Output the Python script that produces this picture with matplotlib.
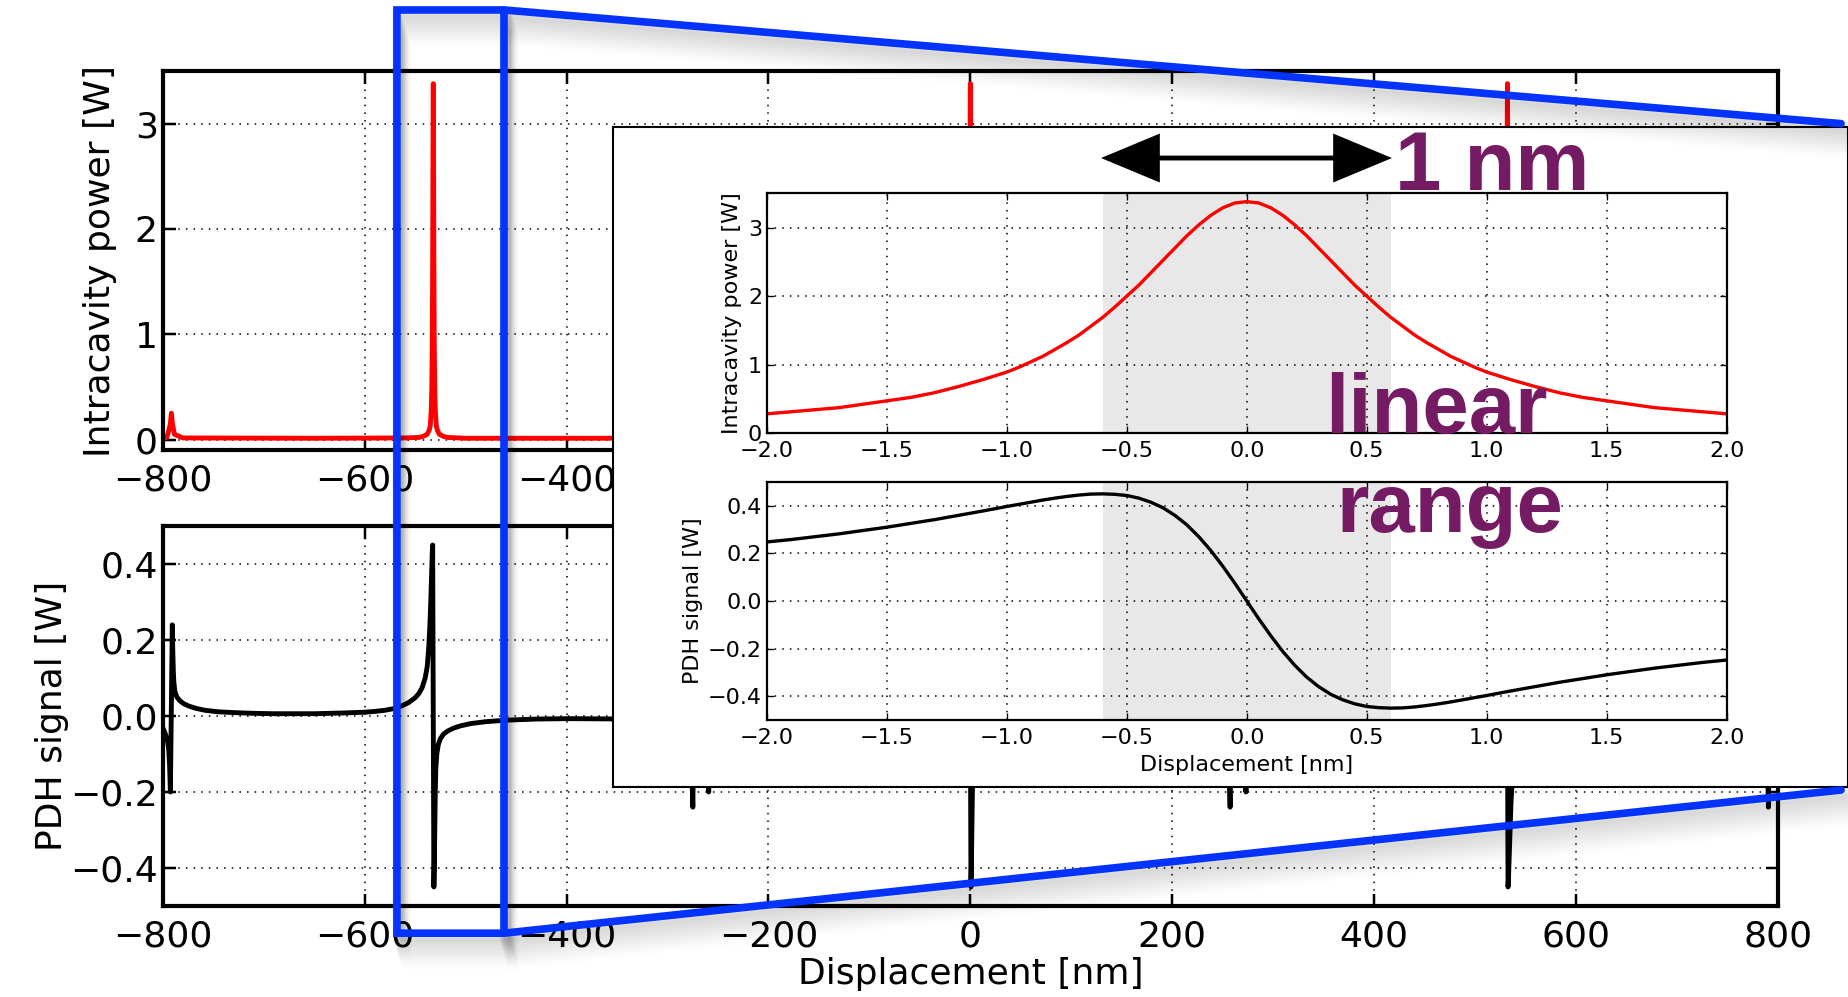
import matplotlib
matplotlib.use('Agg')
import matplotlib.pyplot as plt
from matplotlib.patches import Rectangle, FancyArrowPatch
from matplotlib.lines import Line2D

# main panels: (displacement nm, value)
power_points = [
    (-800, 0.015), (-796, 0.02), (-794.4, 0.07), (-792.4, 0.15), (-791.9, 0.2), (-791.4, 0.25),
    (-790.9, 0.2), (-790.4, 0.15), (-788.4, 0.05), (-780, 0.015), (-650, 0.012), (-560, 0.015),
    (-546, 0.02), (-542, 0.03), (-538, 0.05), (-536, 0.09), (-535, 0.13), (-534, 0.28),
    (-533.5, 0.47), (-533, 0.89), (-532.6, 1.69), (-532.3, 2.70), (-532, 3.38), (-531.7, 2.70),
    (-531.4, 1.69), (-531, 0.89), (-530.5, 0.47), (-530, 0.28), (-529, 0.13), (-528, 0.09),
    (-526, 0.05), (-522, 0.03), (-518, 0.02), (-500, 0.012), (-300, 0.012),
    (-277, 0.02), (-275, 0.07), (-274.5, 0.15), (-274, 0.25), (-273.5, 0.15), (-273, 0.07),
    (-271, 0.02), (-266, 0.015), (-261, 0.02), (-259, 0.07), (-258.5, 0.15), (-258, 0.25),
    (-257.5, 0.15), (-257, 0.07), (-255, 0.02), (-100, 0.012), (-14, 0.02), (-6, 0.05),
    (-4, 0.09), (-3, 0.13), (-2, 0.28), (-1.5, 0.47), (-1, 0.89), (-0.6, 1.69), (-0.3, 2.70),
    (0, 3.38), (0.3, 2.70), (0.6, 1.69), (1, 0.89), (1.5, 0.47), (2, 0.28), (3, 0.13),
    (4, 0.09), (6, 0.05), (14, 0.02), (100, 0.012), (255, 0.02), (257, 0.07), (257.5, 0.15),
    (258, 0.25), (258.5, 0.15), (259, 0.07), (261, 0.02), (266, 0.015), (271, 0.02),
    (273, 0.07), (273.5, 0.15), (274, 0.25), (274.5, 0.15), (275, 0.07), (277, 0.02),
    (300, 0.012), (500, 0.012), (518, 0.02), (522, 0.03), (526, 0.05), (528, 0.09),
    (529, 0.13), (530, 0.28), (530.5, 0.47), (531, 0.89), (531.4, 1.69), (531.7, 2.70),
    (532, 3.38), (532.3, 2.70), (532.6, 1.69), (533, 0.89), (533.5, 0.47), (534, 0.28),
    (535, 0.13), (536, 0.09), (538, 0.05), (542, 0.03), (546, 0.02), (560, 0.015),
    (650, 0.012), (780, 0.015), (788.4, 0.05), (790.4, 0.15), (790.9, 0.2), (791.4, 0.25),
    (791.9, 0.2), (792.4, 0.15), (794.4, 0.07), (796, 0.02), (800, 0.015),
]

pdh_points = [
    (-800, -0.03), (-797, -0.05), (-795, -0.07), (-794, -0.09), (-793.2, -0.13), (-792.4, -0.2),
    (-791.4, 0.02), (-790.5, 0.24), (-790, 0.17), (-789.5, 0.12), (-789, 0.09), (-788, 0.065),
    (-786, 0.05), (-783, 0.04), (-779, 0.032), (-774, 0.026), (-767, 0.02), (-758, 0.015),
    (-745, 0.011), (-730, 0.009), (-710, 0.007), (-690, 0.006), (-650, 0.006), (-620, 0.008),
    (-600, 0.01), (-590, 0.012), (-580, 0.015), (-570, 0.02), (-562, 0.028), (-556, 0.036),
    (-550, 0.048), (-546, 0.06), (-543, 0.075), (-540, 0.1), (-538, 0.13), (-536.5, 0.18),
    (-535.5, 0.23), (-534.5, 0.3), (-533.6, 0.38), (-533, 0.43), (-532.6, 0.45), (-532, 0.0),
    (-531.4, -0.45), (-531, -0.4), (-530.5, -0.3), (-530, -0.2), (-529.5, -0.14),
    (-528.5, -0.1), (-527, -0.075), (-525, -0.06), (-522, -0.048), (-518, -0.04),
    (-512, -0.032), (-505, -0.026), (-495, -0.02), (-480, -0.015), (-460, -0.011),
    (-430, -0.008), (-400, -0.007), (-330, -0.008), (-285, -0.025), (-280, -0.04),
    (-277, -0.06), (-275.9, -0.14), (-274.9, -0.24), (-274, -0.02), (-273, 0.2), (-272, 0.12),
    (-270.5, 0.06), (-268, 0.04), (-266, 0.03), (-263, 0.01), (-261, -0.06), (-260, -0.12),
    (-259.2, -0.2), (-258.2, 0.02), (-257.3, 0.24), (-256.3, 0.14), (-254.8, 0.06),
    (-250.8, 0.04), (-246, 0.03), (-230, 0.015), (-200, 0.008), (-150, 0.008), (-80, 0.009),
    (-40, 0.016), (-18, 0.05), (-10, 0.08), (-6, 0.13), (-4, 0.2), (-2.5, 0.3), (-1.2, 0.42),
    (-0.6, 0.45), (0, 0.0), (0.6, -0.45), (1.0, -0.4), (1.5, -0.3), (2.0, -0.2), (3.5, -0.1),
    (6, -0.06), (10, -0.046), (21, -0.028), (41, -0.015), (80, -0.009), (150, -0.008),
    (200, -0.008), (230, -0.015), (246, -0.03), (250.8, -0.04), (254.8, -0.06), (256.3, -0.14),
    (257.3, -0.24), (258.2, -0.02), (259.2, 0.2), (260, 0.12), (261, 0.06), (263, 0.01),
    (266, -0.03), (268, -0.04), (270.5, -0.06), (272, -0.12), (273, -0.2), (274, 0.02),
    (274.9, 0.24), (275.9, 0.14), (277, 0.06), (280, 0.04), (285, 0.025), (330, 0.008),
    (400, 0.007), (430, 0.008), (460, 0.011), (480, 0.015), (495, 0.02), (505, 0.026),
    (512, 0.032), (518, 0.04), (522, 0.048), (525, 0.06), (527, 0.075), (528.5, 0.1),
    (529.5, 0.14), (530, 0.2), (530.5, 0.3), (531, 0.4), (531.4, 0.45), (532, 0.0),
    (532.6, -0.45), (533, -0.43), (533.6, -0.38), (534.5, -0.3), (535.5, -0.23),
    (536.5, -0.18), (538, -0.13), (540, -0.1), (543, -0.075), (546, -0.06), (550, -0.048),
    (556, -0.036), (562, -0.028), (570, -0.02), (580, -0.015), (590, -0.012), (600, -0.01),
    (620, -0.008), (650, -0.006), (690, -0.006), (710, -0.007), (730, -0.009), (745, -0.011),
    (758, -0.015), (767, -0.02), (774, -0.026), (779, -0.032), (783, -0.04), (786, -0.05),
    (788, -0.065), (789, -0.09), (789.5, -0.12), (790, -0.17), (790.5, -0.24), (791.4, -0.02),
    (792.4, 0.2), (793.2, 0.13), (794, 0.09), (795, 0.07), (797, 0.05), (800, 0.03),
]

# inset: one resonance (displacement nm)
zoom_x = [-2.0, -1.9, -1.8, -1.7, -1.6, -1.5, -1.4, -1.3, -1.2, -1.1, -1.0, -0.95, -0.9,
          -0.85, -0.8, -0.75, -0.7, -0.65, -0.6, -0.55, -0.5, -0.45, -0.4, -0.35, -0.3,
          -0.25, -0.2, -0.15, -0.1, -0.05, 0.0, 0.05, 0.1, 0.15, 0.2, 0.25, 0.3, 0.35, 0.4,
          0.45, 0.5, 0.55, 0.6, 0.65, 0.7, 0.75, 0.8, 0.85, 0.9, 0.95, 1.0, 1.1, 1.2, 1.3,
          1.4, 1.5, 1.6, 1.7, 1.8, 1.9, 2.0]
zoom_power = [0.28, 0.31, 0.34, 0.37, 0.42, 0.47, 0.52, 0.59, 0.68, 0.78, 0.89, 0.96, 1.04,
              1.12, 1.22, 1.32, 1.43, 1.56, 1.69, 1.84, 2.00, 2.16, 2.34, 2.52, 2.70, 2.88,
              3.04, 3.18, 3.29, 3.36, 3.38, 3.36, 3.29, 3.18, 3.04, 2.88, 2.70, 2.52, 2.34,
              2.16, 2.00, 1.84, 1.69, 1.56, 1.43, 1.32, 1.22, 1.12, 1.04, 0.96, 0.89, 0.78,
              0.68, 0.59, 0.52, 0.47, 0.42, 0.37, 0.34, 0.31, 0.28]
zoom_pdh = [0.248, 0.258, 0.270, 0.282, 0.296, 0.310, 0.326, 0.342, 0.360, 0.378, 0.397,
            0.406, 0.415, 0.424, 0.432, 0.439, 0.445, 0.449, 0.450, 0.448, 0.443, 0.432,
            0.415, 0.392, 0.360, 0.320, 0.270, 0.212, 0.146, 0.075, 0.0, -0.075, -0.146,
            -0.212, -0.270, -0.320, -0.360, -0.392, -0.415, -0.432, -0.443, -0.448, -0.450,
            -0.449, -0.445, -0.439, -0.432, -0.424, -0.415, -0.406, -0.397, -0.378, -0.360,
            -0.342, -0.326, -0.310, -0.296, -0.282, -0.270, -0.258, -0.248]
linear_range = [-0.6, 0.6]
zoom_window = [-568, -462]

main_xticks = [-800, -600, -400, -200, 0, 200, 400, 600, 800]
zoom_xticks = [-2.0, -1.5, -1.0, -0.5, 0.0, 0.5, 1.0, 1.5, 2.0]

W, H = 1849, 997
purple = '#741b64'
blue = '#0433ff'
dots = (0, (1, 4))

fig = plt.figure(figsize=(W / 100, H / 100), dpi=100)


def style_axes(ax, size, spine_w, tick_len):
    for s in ax.spines.values():
        s.set_linewidth(spine_w)
    ax.tick_params(direction='in', top=True, right=True, labelsize=size,
                   length=tick_len, width=spine_w * 0.6)
    ax.grid(True, color='k', linestyle=dots, linewidth=1.1)
    ax.set_axisbelow(True)


ax1 = fig.add_axes([0.088, 0.5486, 0.8736, 0.3802])
ax1.plot([p[0] for p in power_points], [p[1] for p in power_points], color='r', lw=3.5)
ax1.set_xlim(-800, 800)
ax1.set_ylim(-0.1, 3.5)
ax1.set_xticks(main_xticks)
ax1.set_yticks([0, 1, 2, 3])
ax1.set_ylabel('Intracavity power [W]', fontsize=26)
ax1.yaxis.set_label_coords(-0.028, 0.5)
style_axes(ax1, 26, 3, 9)
ax1.tick_params(axis='x', pad=10)

ax2 = fig.add_axes([0.088, 0.0913, 0.8736, 0.3811])
ax2.plot([p[0] for p in pdh_points], [p[1] for p in pdh_points], color='k', lw=3.5)
ax2.set_xlim(-800, 800)
ax2.set_ylim(-0.5, 0.5)
ax2.set_xticks(main_xticks)
ax2.set_yticks([-0.4, -0.2, 0.0, 0.2, 0.4])
ax2.set_ylabel('PDH signal [W]', fontsize=26)
ax2.yaxis.set_label_coords(-0.058, 0.5)
ax2.set_xlabel('Displacement [nm]', fontsize=26, labelpad=2)
style_axes(ax2, 26, 3, 9)
ax2.tick_params(axis='x', pad=10)

# inset frame
fig.add_artist(Rectangle((0.3316, 0.2107), 0.6679, 0.6623, transform=fig.transFigure,
                         facecolor='white', edgecolor='k', lw=1.5, zorder=2))

ia1 = fig.add_axes([0.4148, 0.5657, 0.519, 0.2403], zorder=3)
ia1.axvspan(*linear_range, color='#e8e8e8', lw=0, zorder=0)
ia1.plot(zoom_x, zoom_power, color='r', lw=2.4)
ia1.set_xlim(-2, 2)
ia1.set_ylim(0, 3.5)
ia1.set_xticks(zoom_xticks)
ia1.set_yticks([0, 1, 2, 3])
ia1.set_ylabel('Intracavity power [W]', fontsize=16, labelpad=4)
style_axes(ia1, 16, 1.6, 5)
ia1.tick_params(axis='x', pad=6)

ia2 = fig.add_axes([0.4148, 0.2778, 0.519, 0.2388], zorder=3)
ia2.axvspan(*linear_range, color='#e8e8e8', lw=0, zorder=0)
ia2.plot(zoom_x, zoom_pdh, color='k', lw=2.4)
ia2.set_xlim(-2, 2)
ia2.set_ylim(-0.5, 0.5)
ia2.set_xticks(zoom_xticks)
ia2.set_yticks([-0.4, -0.2, 0.0, 0.2, 0.4])
ia2.set_ylabel('PDH signal [W]', fontsize=16, labelpad=4)
ia2.set_xlabel('Displacement [nm]', fontsize=16, labelpad=5)
style_axes(ia2, 16, 1.6, 5)
ia2.tick_params(axis='x', pad=6)

# zoom box on the main panels, tied to the data window
to_fig = ax1.transData + fig.transFigure.inverted()
xl = to_fig.transform((zoom_window[0], 0))[0]
xr = to_fig.transform((zoom_window[1], 0))[0]
yb, yt = 0.064, 0.99
outline = [(0.9957, 0.876), (xr, yt), (xl, yt), (xl, yb), (xr, yb), (0.9957, 0.2076)]
riser = [(xr, yt), (xr, yb)]

for k in range(1, 17):
    dx, dy = 0.6 * k / W, -2.0 * k / H
    for pts in (outline, riser):
        fig.add_artist(Line2D([p[0] + dx for p in pts], [p[1] + dy for p in pts],
                              transform=fig.transFigure, color='k',
                              alpha=0.035 * (1 - k / 18), lw=8, zorder=4,
                              solid_joinstyle='round'))
for pts in (outline, riser):
    fig.add_artist(Line2D([p[0] for p in pts], [p[1] for p in pts],
                          transform=fig.transFigure, color=blue, lw=5.5, zorder=5,
                          solid_capstyle='round', solid_joinstyle='miter'))

# annotations
fig.add_artist(FancyArrowPatch((0.5955, 0.8415), (0.7528, 0.8415), transform=fig.transFigure,
                               arrowstyle='<|-|>,head_length=1.2,head_width=0.5',
                               mutation_scale=30, color='k', lw=3.5, zorder=6,
                               shrinkA=0, shrinkB=0, joinstyle='miter', capstyle='butt'))
txt = dict(color=purple, fontsize=60, fontweight='bold', family=['Liberation Sans', 'DejaVu Sans'],
           ha='left', va='baseline', zorder=7)
fig.text(0.7545, 0.8094, '1 nm', **txt)
fig.text(0.7165, 0.5657, 'linear', **txt)
fig.text(0.7225, 0.4664, 'range', **txt)

plt.savefig('out.png', dpi=100)
